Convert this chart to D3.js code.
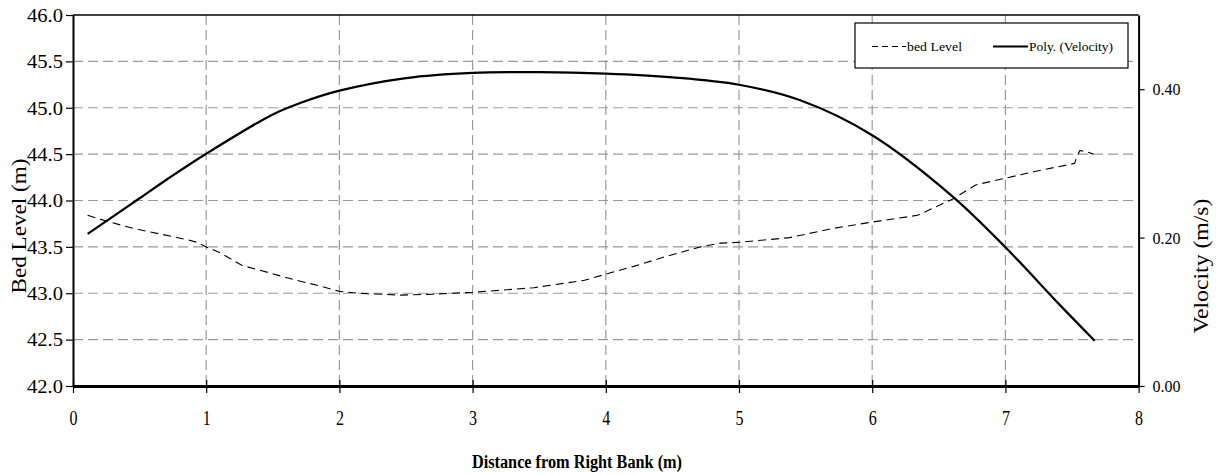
<!DOCTYPE html>
<html>
<head>
<meta charset="utf-8">
<script src="https://cdn.jsdelivr.net/npm/d3@7"></script>
<style>
  html, body { margin: 0; padding: 0; background: #fff; }
  svg { display: block; }
  text { font-family: "Liberation Serif", "Times New Roman", serif; fill: #000; }
</style>
</head>
<body>
<svg id="chart" width="1223" height="475"></svg>
<script>
// ---- Data ----
const bedDistance = [0.11, 0.27, 0.45, 0.65, 0.85, 0.93, 1.0, 1.10, 1.27, 1.40, 1.65, 1.85, 2.0, 2.15, 2.45, 2.70, 3.0, 3.46, 3.84, 4.01, 4.21, 4.46, 4.71, 4.86, 5.01, 5.38, 5.71, 6.01, 6.34, 6.46, 6.61, 6.78, 7.0, 7.21, 7.52, 7.535, 7.56, 7.62, 7.66];
const bedLevel    = [43.84, 43.77, 43.70, 43.64, 43.58, 43.55, 43.50, 43.44, 43.30, 43.25, 43.15, 43.08, 43.02, 43.00, 42.98, 42.99, 43.01, 43.06, 43.14, 43.21, 43.29, 43.40, 43.50, 43.54, 43.55, 43.60, 43.70, 43.77, 43.84, 43.92, 44.02, 44.17, 44.24, 44.31, 44.40, 44.47, 44.54, 44.52, 44.50];

const velDistance = [0.11, 0.5, 0.71, 1.0, 1.5, 1.7, 2.0, 2.5, 3.0, 3.5, 4.0, 4.5, 5.0, 5.46, 6.0, 6.6, 7.0, 7.41, 7.67];
const velocity    = [0.205, 0.253, 0.279, 0.313, 0.366, 0.381, 0.398, 0.415, 0.422, 0.423, 0.421, 0.416, 0.406, 0.385, 0.338, 0.256, 0.187, 0.109, 0.061];

const xTicks = [0, 1, 2, 3, 4, 5, 6, 7, 8];
const leftTicks = [42.0, 42.5, 43.0, 43.5, 44.0, 44.5, 45.0, 45.5, 46.0];
const rightTicks = [0.00, 0.20, 0.40];

const xTitle = "Distance from Right Bank (m)";
const leftTitle = "Bed Level (m)";
const rightTitle = "Velocity (m/s)";
const legendLabels = ["bed Level", "Poly. (Velocity)"];

// ---- Layout ----
const L = 73, R = 1138.6, T = 15, B = 386;
const svg = d3.select("#chart");

const x = d3.scaleLinear().domain([0, 8]).range([L, R]);
const yL = d3.scaleLinear().domain([42, 46]).range([B, T]);
const yR = d3.scaleLinear().domain([0, 0.5]).range([B, T]);

// grid
const grid = svg.append("g");
grid.selectAll(".hg").data(leftTicks.slice(1, -1)).enter().append("line")
  .attr("x1", L).attr("x2", R)
  .attr("y1", d => yL(d)).attr("y2", d => yL(d))
  .attr("stroke", "#9a9a9a").attr("stroke-width", 1.2).attr("stroke-dasharray", "10,5");
grid.selectAll(".vg").data(xTicks.slice(1, -1)).enter().append("line")
  .attr("x1", d => x(d)).attr("x2", d => x(d))
  .attr("y1", T).attr("y2", B)
  .attr("stroke", "#9a9a9a").attr("stroke-width", 1.2).attr("stroke-dasharray", "10,5");

// top frame line
svg.append("line").attr("x1", L).attr("x2", R).attr("y1", T).attr("y2", T)
  .attr("stroke", "#000").attr("stroke-width", 1.5);

// left axis
const gL = svg.append("g").attr("transform", `translate(${L},0)`)
  .call(d3.axisLeft(yL).tickValues(leftTicks).tickFormat(d3.format(".1f")).tickSizeInner(7).tickSizeOuter(0));
gL.select(".domain").attr("stroke", "#000").attr("stroke-width", 2);
gL.selectAll(".tick line").attr("stroke", "#000").attr("stroke-width", 1.2);
gL.selectAll(".tick text").attr("x", -10).attr("dy", "0.35em")
  .style("font-size", "18px").attr("font-family", "Liberation Serif")
  .attr("textLength", 36).attr("lengthAdjust", "spacingAndGlyphs");

// right axis
const gR = svg.append("g").attr("transform", `translate(${R},0)`)
  .call(d3.axisRight(yR).tickValues(rightTicks).tickFormat(d3.format(".2f")).tickSizeInner(6).tickSizeOuter(0));
gR.select(".domain").attr("stroke", "#000").attr("stroke-width", 2);
gR.selectAll(".tick line").attr("stroke", "#000").attr("stroke-width", 1.2);
gR.selectAll(".tick text").attr("x", 14).attr("dy", "0.35em")
  .style("font-size", "16px").attr("font-family", "Liberation Serif");

// bottom axis
const gB = svg.append("g").attr("transform", `translate(0,${B})`)
  .call(d3.axisBottom(x).tickValues(xTicks).tickFormat(d3.format("d")).tickSizeInner(7).tickSizeOuter(0));
gB.select(".domain").attr("stroke", "#000").attr("stroke-width", 3);
gB.selectAll(".tick line").attr("y1", -6).attr("stroke", "#000").attr("stroke-width", 1.2);
gB.selectAll(".tick text").attr("y", 0).attr("dy", 0).attr("transform", "translate(0,39) scale(0.8,1)")
  .style("font-size", "20px").attr("font-family", "Liberation Serif");

// bed level line (dashed)
const bedData = bedDistance.map((d, i) => [d, bedLevel[i]]);
svg.append("path").datum(bedData)
  .attr("fill", "none").attr("stroke", "#000").attr("stroke-width", 1.1)
  .attr("stroke-dasharray", "8,5")
  .attr("d", d3.line().x(d => x(d[0])).y(d => yL(d[1])));

// velocity polynomial (solid)
const velData = velDistance.map((d, i) => [d, velocity[i]]);
svg.append("path").datum(velData)
  .attr("fill", "none").attr("stroke", "#000").attr("stroke-width", 2.2)
  .attr("d", d3.line().curve(d3.curveCatmullRom.alpha(0.5)).x(d => x(d[0])).y(d => yR(d[1])));

// axis titles
svg.append("text").attr("x", 577).attr("y", 468).attr("text-anchor", "middle")
  .style("font-size", "18px").style("font-weight", "bold")
  .attr("textLength", 210).attr("lengthAdjust", "spacingAndGlyphs")
  .text(xTitle);

svg.append("text").attr("transform", "translate(26,226) rotate(-90)").attr("text-anchor", "middle")
  .style("font-size", "22px")
  .attr("textLength", 135).attr("lengthAdjust", "spacingAndGlyphs")
  .text(leftTitle);

svg.append("text").attr("transform", "translate(1208,266) rotate(-90)").attr("text-anchor", "middle")
  .style("font-size", "22px")
  .attr("textLength", 135).attr("lengthAdjust", "spacingAndGlyphs")
  .text(rightTitle);

// legend
const lg = svg.append("g");
lg.append("rect").attr("x", 855).attr("y", 23).attr("width", 273).attr("height", 45)
  .attr("fill", "#fff").attr("stroke", "#000").attr("stroke-width", 1.2);
const ly = 46.5;
lg.append("line").attr("x1", 872).attr("x2", 906).attr("y1", ly).attr("y2", ly)
  .attr("stroke", "#000").attr("stroke-width", 1.1).attr("stroke-dasharray", "6,4");
lg.append("text").attr("x", 907).attr("y", ly).attr("dy", "0.35em")
  .style("font-size", "13px").attr("textLength", 55).attr("lengthAdjust", "spacingAndGlyphs")
  .text(legendLabels[0]);
lg.append("line").attr("x1", 993).attr("x2", 1028).attr("y1", ly).attr("y2", ly)
  .attr("stroke", "#000").attr("stroke-width", 2.2);
lg.append("text").attr("x", 1029).attr("y", ly).attr("dy", "0.35em")
  .style("font-size", "13px").attr("textLength", 84).attr("lengthAdjust", "spacingAndGlyphs")
  .text(legendLabels[1]);
</script>
</body>
</html>
